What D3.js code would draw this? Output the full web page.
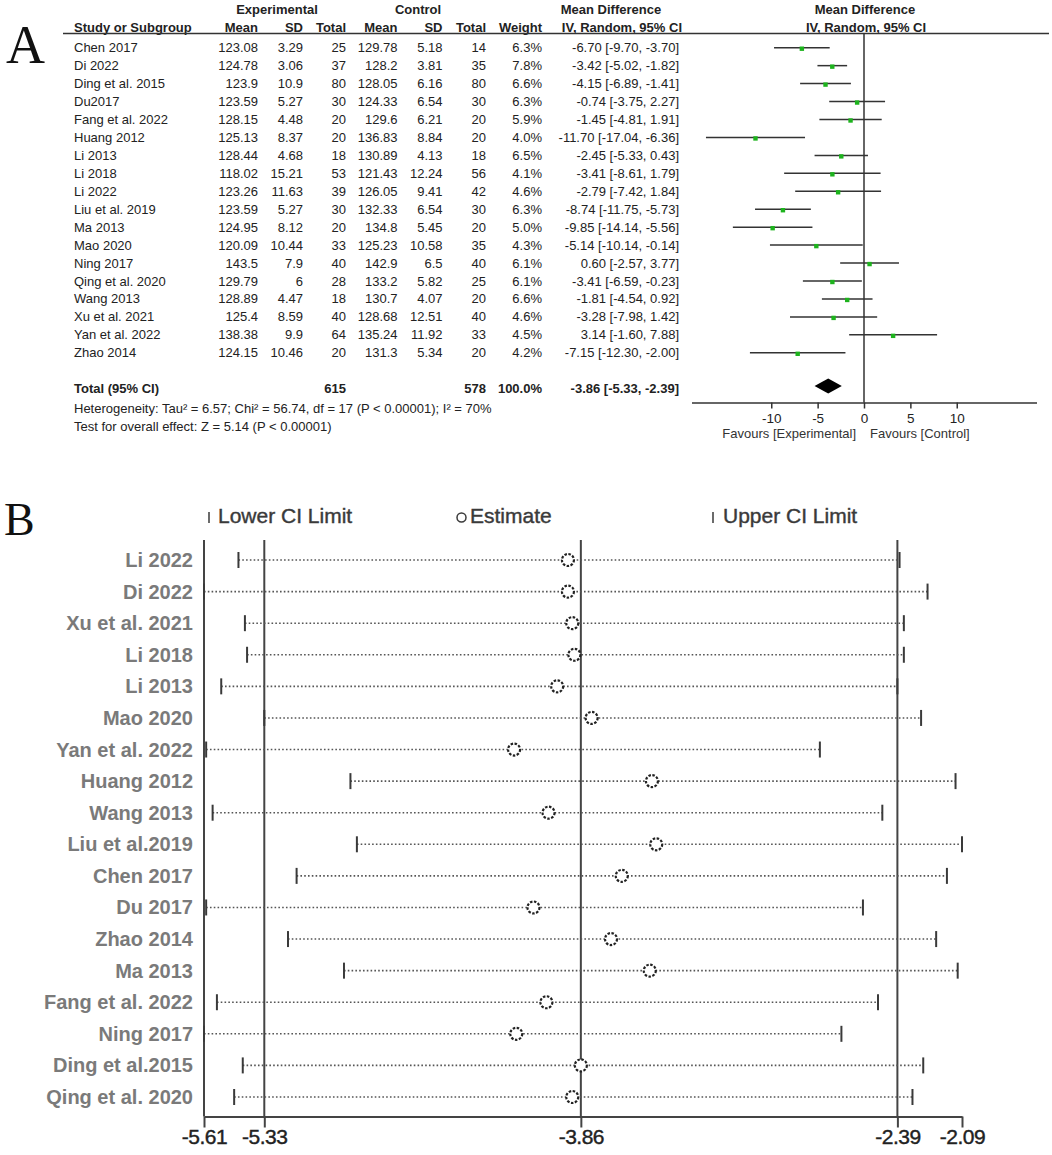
<!DOCTYPE html>
<html>
<head>
<meta charset="utf-8">
<script src="https://cdn.jsdelivr.net/npm/d3@7"></script>
<style>
  body { margin: 0; background: #fff; }
  text { font-family: Arial, "Liberation Sans", sans-serif; }
</style>
</head>
<body>
<script>
// ---- panel A data (forest plot) ----
const studiesA = ["Chen 2017", "Di 2022", "Ding et al. 2015", "Du2017", "Fang et al. 2022", "Huang 2012",
  "Li 2013", "Li 2018", "Li 2022", "Liu et al. 2019", "Ma 2013", "Mao 2020", "Ning 2017",
  "Qing et al. 2020", "Wang 2013", "Xu et al. 2021", "Yan et al. 2022", "Zhao 2014"];
const expMean = [123.08, 124.78, 123.9, 123.59, 128.15, 125.13, 128.44, 118.02, 123.26, 123.59, 124.95, 120.09, 143.5, 129.79, 128.89, 125.4, 138.38, 124.15];
const expSD = [3.29, 3.06, 10.9, 5.27, 4.48, 8.37, 4.68, 15.21, 11.63, 5.27, 8.12, 10.44, 7.9, 6, 4.47, 8.59, 9.9, 10.46];
const expN = [25, 37, 80, 30, 20, 20, 18, 53, 39, 30, 20, 33, 40, 28, 18, 40, 64, 20];
const ctlMean = [129.78, 128.2, 128.05, 124.33, 129.6, 136.83, 130.89, 121.43, 126.05, 132.33, 134.8, 125.23, 142.9, 133.2, 130.7, 128.68, 135.24, 131.3];
const ctlSD = [5.18, 3.81, 6.16, 6.54, 6.21, 8.84, 4.13, 12.24, 9.41, 6.54, 5.45, 10.58, 6.5, 5.82, 4.07, 12.51, 11.92, 5.34];
const ctlN = [14, 35, 80, 30, 20, 20, 18, 56, 42, 30, 20, 35, 40, 25, 20, 40, 33, 20];
const weight = [6.3, 7.8, 6.6, 6.3, 5.9, 4.0, 6.5, 4.1, 4.6, 6.3, 5.0, 4.3, 6.1, 6.1, 6.6, 4.6, 4.5, 4.2];
const md = [-6.70, -3.42, -4.15, -0.74, -1.45, -11.70, -2.45, -3.41, -2.79, -8.74, -9.85, -5.14, 0.60, -3.41, -1.81, -3.28, 3.14, -7.15];
const ciLow = [-9.70, -5.02, -6.89, -3.75, -4.81, -17.04, -5.33, -8.61, -7.42, -11.75, -14.14, -10.14, -2.57, -6.59, -4.54, -7.98, -1.60, -12.30];
const ciHigh = [-3.70, -1.82, -1.41, 2.27, 1.91, -6.36, 0.43, 1.79, 1.84, -5.73, -5.56, -0.14, 3.77, -0.23, 0.92, 1.42, 7.88, -2.00];
const pooled = { est: -3.86, lo: -5.33, hi: -2.39 };
const totals = [615, 578];
const forestTicks = [-10, -5, 0, 5, 10];

// ---- panel B data (leave-one-out sensitivity) ----
const sensStudies = ["Li 2022", "Di 2022", "Xu et al. 2021", "Li 2018", "Li 2013", "Mao 2020", "Yan et al. 2022",
  "Huang 2012", "Wang 2013", "Liu et al.2019", "Chen 2017", "Du 2017", "Zhao 2014", "Ma 2013",
  "Fang et al. 2022", "Ning 2017", "Ding et al.2015", "Qing et al. 2020"];
const sensLower = [-5.45, -5.61, -5.42, -5.41, -5.53, -5.33, -5.60, -4.93, -5.57, -4.90, -5.18, -5.60, -5.22, -4.96, -5.55, -5.61, -5.43, -5.47];
const sensEst = [-3.92, -3.92, -3.90, -3.89, -3.97, -3.81, -4.17, -3.53, -4.01, -3.51, -3.67, -4.08, -3.72, -3.54, -4.02, -4.16, -3.86, -3.90];
const sensUpper = [-2.38, -2.25, -2.36, -2.36, -2.39, -2.28, -2.75, -2.12, -2.46, -2.09, -2.16, -2.55, -2.21, -2.11, -2.48, -2.65, -2.27, -2.32];
const sensTicks = [-5.61, -5.33, -3.86, -2.39, -2.09];
const sensRefs = [-5.33, -3.86, -2.39];

const width = 1052, height = 1155;
const ink = '#222', line = '#333';
const hy = s => s.replace(/\u2212/g, '-');   // plain hyphen minus, like the original

const svg = d3.select('body').append('svg')
  .attr('width', width)
  .attr('height', height);

// ================= Panel A =================
const A = svg.append('g');
A.append('text').attr('x', 6).attr('y', 63)
  .style('font-family', '"Liberation Serif", "DejaVu Serif", serif')
  .style('font-size', '54px').attr('fill', '#111').text('A');

const rowY = d3.scalePoint().domain(studiesA).range([47.7, 352.8]);
const fs = '13px';

// column right edges
const cols = { eMean: 258, eSD: 303, eN: 346, cMean: 397.5, cSD: 442.5, cN: 486, w: 542, ci: 679 };

const hdr = (x, y, t, anchor) => A.append('text').attr('x', x).attr('y', y)
  .attr('text-anchor', anchor || 'end').attr('fill', ink)
  .style('font-size', fs).style('font-weight', 'bold').text(t);

hdr(277, 14, 'Experimental', 'middle');
hdr(418, 14, 'Control', 'middle');
hdr(611, 14, 'Mean Difference', 'middle');
hdr(865, 14, 'Mean Difference', 'middle');
hdr(74, 32, 'Study or Subgroup', 'start');
hdr(cols.eMean, 32, 'Mean');
hdr(cols.eSD, 32, 'SD');
hdr(cols.eN, 32, 'Total');
hdr(cols.cMean, 32, 'Mean');
hdr(cols.cSD, 32, 'SD');
hdr(cols.cN, 32, 'Total');
hdr(cols.w, 32, 'Weight');
hdr(682, 32, 'IV, Random, 95% CI');
hdr(866, 32, 'IV, Random, 95% CI', 'middle');

A.append('line').attr('x1', 63).attr('x2', 1049).attr('y1', 33.5).attr('y2', 33.5)
  .attr('stroke', line).attr('stroke-width', 1.5);

const f2 = v => hy(d3.format('.2f')(v));
const rows = studiesA.map((s, i) => ({
  s, i, y: rowY(s),
  cells: [
    [cols.eMean, String(expMean[i])], [cols.eSD, String(expSD[i])], [cols.eN, String(expN[i])],
    [cols.cMean, String(ctlMean[i])], [cols.cSD, String(ctlSD[i])], [cols.cN, String(ctlN[i])],
    [cols.w, weight[i].toFixed(1) + '%'],
    [cols.ci, `${f2(md[i])} [${f2(ciLow[i])}, ${f2(ciHigh[i])}]`]
  ]
}));

const rg = A.selectAll('g.row').data(rows).enter().append('g').attr('class', 'row');
rg.append('text').attr('x', 74).attr('y', d => d.y + 4.5)
  .attr('fill', ink).style('font-size', fs).text(d => d.s);
rg.selectAll('text.cell').data(d => d.cells.map(c => ({ x: c[0], t: c[1], y: d.y })))
  .enter().append('text').attr('class', 'cell')
  .attr('x', c => c.x).attr('y', c => c.y + 4.5).attr('text-anchor', 'end')
  .attr('fill', ink).style('font-size', fs).text(c => c.t);

// total row + footnotes
const totY = 388 + 4.5;
hdr(74, totY, 'Total (95% CI)', 'start');
hdr(cols.eN, totY, String(totals[0]));
hdr(cols.cN, totY, String(totals[1]));
hdr(cols.w, totY, '100.0%');
hdr(cols.ci, totY, `${f2(pooled.est)} [${f2(pooled.lo)}, ${f2(pooled.hi)}]`);
A.append('text').attr('x', 74).attr('y', 408 + 4.5).attr('fill', ink).style('font-size', fs)
  .text('Heterogeneity: Tau² = 6.57; Chi² = 56.74, df = 17 (P < 0.00001); I² = 70%');
A.append('text').attr('x', 74).attr('y', 426 + 4.5).attr('fill', ink).style('font-size', fs)
  .text('Test for overall effect: Z = 5.14 (P < 0.00001)');

// forest plot
const fx = d3.scaleLinear().domain([-18.6, 18.6]).range([691.5, 1036.5]);
const axisY = 402.5;
A.append('line').attr('x1', fx(0)).attr('x2', fx(0)).attr('y1', 33.5).attr('y2', axisY)
  .attr('stroke', line).attr('stroke-width', 1.5);

const fg = A.append('g');
fg.selectAll('line.ci').data(rows).enter().append('line').attr('class', 'ci')
  .attr('x1', d => fx(ciLow[d.i])).attr('x2', d => fx(ciHigh[d.i]))
  .attr('y1', d => d.y).attr('y2', d => d.y)
  .attr('stroke', line).attr('stroke-width', 1.5);
fg.selectAll('rect.pt').data(rows).enter().append('rect').attr('class', 'pt')
  .attr('x', d => fx(md[d.i]) - 2.2).attr('y', d => d.y - 1.2)
  .attr('width', 4.4).attr('height', 4.4).attr('fill', '#1db31d');

const dy = 386;
A.append('path')
  .attr('d', `M${fx(pooled.lo)},${dy} L${fx(pooled.est)},${dy - 7.5} L${fx(pooled.hi)},${dy} L${fx(pooled.est)},${dy + 7.5} Z`)
  .attr('fill', '#000');

const fAxis = d3.axisBottom(fx).tickValues(forestTicks).tickSize(6).tickSizeOuter(0)
  .tickFormat(d => String(d));
const fa = A.append('g').attr('transform', `translate(0,${axisY})`).call(fAxis);
fa.select('.domain').attr('stroke', line).attr('stroke-width', 1.5);
fa.selectAll('.tick line').attr('stroke', line).attr('stroke-width', 1.5);
fa.selectAll('.tick text').attr('fill', ink).style('font-size', '13.5px')
  .style('font-family', 'Arial, "Liberation Sans", sans-serif').attr('dy', '0.85em');

A.append('text').attr('x', 856).attr('y', 437.5).attr('text-anchor', 'end')
  .attr('fill', '#333').style('font-size', fs).text('Favours [Experimental]');
A.append('text').attr('x', 870).attr('y', 437.5).attr('text-anchor', 'start')
  .attr('fill', '#333').style('font-size', fs).text('Favours [Control]');

// ================= Panel B =================
const B = svg.append('g');
B.append('text').attr('x', 4).attr('y', 535)
  .style('font-family', '"Liberation Serif", "DejaVu Serif", serif')
  .style('font-size', '46px').attr('fill', '#111').text('B');

const sx = d3.scaleLinear().domain([-5.61, -2.09]).range([204, 962]);
const sy = d3.scalePoint().domain(sensStudies).range([560, 1097]);
const bAxisY = 1116.5, bTop = 540;
const bGray = '#3a3a3a';

// legend
const legY = 516;
const legFs = '21px';
const legText = (x, t) => B.append('text').attr('x', x).attr('y', legY + 7)
  .attr('fill', bGray).attr('stroke', bGray).attr('stroke-width', 0.4)
  .style('font-size', legFs).text(t);
B.append('line').attr('x1', 209).attr('x2', 209).attr('y1', legY - 4).attr('y2', legY + 7)
  .attr('stroke', bGray).attr('stroke-width', 1.5);
legText(218, 'Lower CI Limit');
B.append('circle').attr('cx', 461.5).attr('cy', legY + 1.5).attr('r', 4.5)
  .attr('fill', 'none').attr('stroke', bGray).attr('stroke-width', 1.5);
legText(470, 'Estimate');
B.append('line').attr('x1', 713).attr('x2', 713).attr('y1', legY - 4).attr('y2', legY + 7)
  .attr('stroke', bGray).attr('stroke-width', 1.5);
legText(723, 'Upper CI Limit');

// reference verticals
B.selectAll('line.ref').data(sensRefs).enter().append('line').attr('class', 'ref')
  .attr('x1', d => sx(d)).attr('x2', d => sx(d)).attr('y1', bTop).attr('y2', bAxisY)
  .attr('stroke', '#444').attr('stroke-width', 2);
B.append('line').attr('x1', sx(-5.61)).attr('x2', sx(-5.61)).attr('y1', bTop).attr('y2', bAxisY)
  .attr('stroke', '#444').attr('stroke-width', 2);

// rows
const sRows = sensStudies.map((s, i) => ({ s, y: sy(s), lo: sensLower[i], est: sensEst[i], hi: sensUpper[i] }));
const br = B.selectAll('g.srow').data(sRows).enter().append('g').attr('class', 'srow');
br.append('text').attr('x', 193).attr('y', d => d.y + 7).attr('text-anchor', 'end')
  .attr('fill', '#7a7a7a').style('font-size', '20px').style('font-weight', 'bold').text(d => d.s);
br.append('line')
  .attr('x1', d => sx(d.lo)).attr('x2', d => sx(d.hi)).attr('y1', d => d.y).attr('y2', d => d.y)
  .attr('stroke', '#555').attr('stroke-width', 1.6).attr('stroke-dasharray', '1.6,2.2');
br.append('line')
  .attr('x1', d => sx(d.lo)).attr('x2', d => sx(d.lo)).attr('y1', d => d.y - 8).attr('y2', d => d.y + 8)
  .attr('stroke', bGray).attr('stroke-width', 2);
br.append('line')
  .attr('x1', d => sx(d.hi)).attr('x2', d => sx(d.hi)).attr('y1', d => d.y - 8).attr('y2', d => d.y + 8)
  .attr('stroke', bGray).attr('stroke-width', 2);
br.append('circle').attr('cx', d => sx(d.est)).attr('cy', d => d.y).attr('r', 6)
  .attr('fill', '#fff').attr('stroke', '#222').attr('stroke-width', 2.2).attr('stroke-dasharray', '2.5,1.5');

// x axis
const bAxis = d3.axisBottom(sx).tickValues(sensTicks).tickSize(11).tickSizeOuter(0)
  .tickFormat(d => hy(d3.format('.2f')(d)));
const ba = B.append('g').attr('transform', `translate(0,${bAxisY})`).call(bAxis);
ba.select('.domain').attr('stroke', '#444').attr('stroke-width', 2);
ba.selectAll('.tick line').attr('stroke', '#444').attr('stroke-width', 2);
ba.selectAll('.tick text').attr('fill', '#222').attr('stroke', '#222').attr('stroke-width', 0.4)
  .style('font-size', '21px').style('letter-spacing', '-0.5px')
  .style('font-family', 'Arial, "Liberation Sans", sans-serif').attr('dy', '0.62em');
</script>
</body>
</html>
